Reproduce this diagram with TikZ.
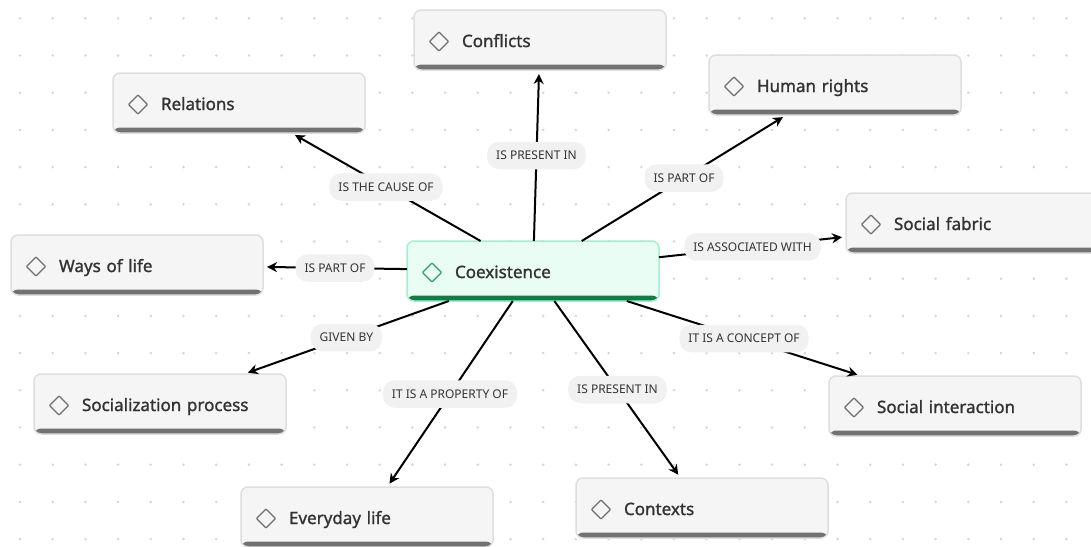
\documentclass[tikz,border=0pt]{standalone}
\usepackage{fontspec}
\setmainfont{Noto Sans}
\newfontfamily\conceptfont{Noto Sans}[FakeBold=1.3]
\usetikzlibrary{arrows.meta}

\definecolor{boxfill}{HTML}{F5F5F5}
\definecolor{boxline}{HTML}{DEDEDE}
\definecolor{barcol}{HTML}{727272}
\definecolor{icongray}{HTML}{6E6E6E}
\definecolor{ink}{HTML}{333333}
\definecolor{mintfill}{HTML}{E9FDF4}
\definecolor{mintline}{HTML}{A2F0D0}
\definecolor{greenbar}{HTML}{0F7B45}
\definecolor{greenicon}{HTML}{2E9C6C}
\definecolor{pillcol}{HTML}{F1F1F1}
\definecolor{dotcol}{HTML}{D6D6D6}

\tikzset{
  bar color/.store in=\barcolor, bar color=barcol,
  icon color/.store in=\iconcolor, icon color=icongray,
  concept/.style={draw=boxline, fill=boxfill, line width=1.5pt, rounded corners=7pt,
    minimum width=252pt, minimum height=60pt, text width=222pt, align=left,
    inner xsep=0pt, outer sep=0pt, text height=14pt, text depth=0pt,
    font=\conceptfont\fontsize{17}{20}\selectfont, text=ink,
    execute at begin node={\hspace*{33pt}},
    path picture={
      \fill[\barcolor] ([yshift=5.5pt]path picture bounding box.south west)
        rectangle (path picture bounding box.south east);
      \draw[\iconcolor, line width=1.2pt, rounded corners=0.6pt]
        ([xshift=15.5pt, yshift=-1.5pt]path picture bounding box.west)
        -- ++(9.5pt,9.5pt) -- ++(9.5pt,-9.5pt) -- ++(-9.5pt,-9.5pt) -- cycle;
    }},
  mainconcept/.style={concept, fill=mintfill, draw=mintline,
    bar color=greenbar, icon color=greenicon},
  linklabel/.style={fill=pillcol, rounded corners=12pt, inner xsep=9pt, inner ysep=9.5pt,
    text height=8.5pt, text depth=0pt, font=\fontsize{12}{14}\selectfont, text=ink},
  link/.style={draw=black, line width=2pt, -{Stealth[length=10pt,width=10pt]}, shorten >=4pt}
}

\begin{document}
\begin{tikzpicture}[x=1pt, y=-1pt]
  % canvas and dot grid
  \fill[white] (0,0) rectangle (1091,546);
  \useasboundingbox (0,0) rectangle (1091,546);
  \foreach \i in {0,...,33}
    \foreach \j in {0,...,14}
      \fill[dotcol] ({20+32.7*\i},{18.3+37.2*\j}) circle (1.4pt);

  % concepts
  \node[mainconcept] (coex) at (533,271) {Coexistence};
  \node[concept] (conf) at (540,40) {Conflicts};
  \node[concept] (rel) at (239,103) {Relations};
  \node[concept] (hum) at (835,85) {Human rights};
  \node[concept] (fab) at (972,223) {Social fabric};
  \node[concept] (ways) at (137,265) {Ways of life};
  \node[concept] (socp) at (160,404) {Socialization process};
  \node[concept] (every) at (367,517) {Everyday life};
  \node[concept] (ctx) at (702,508) {Contexts};
  \node[concept] (inter) at (955,406) {Social interaction};

  % links
  \draw[link] (coex) -- node[linklabel] {IS THE CAUSE OF} (rel);
  \draw[link] (coex) -- node[linklabel] {IS PRESENT IN} (conf);
  \draw[link] (coex) -- node[linklabel] {IS PART OF} (hum);
  \draw[link] (coex) -- node[linklabel] {IS ASSOCIATED WITH} (fab);
  \draw[link] (coex) -- node[linklabel] {IS PART OF} (ways);
  \draw[link] (coex) -- node[linklabel] {GIVEN BY} (socp);
  \draw[link] (coex) -- node[linklabel] {IT IS A PROPERTY OF} (every);
  \draw[link] (coex) -- node[linklabel] {IS PRESENT IN} (ctx);
  \draw[link] (coex) -- node[linklabel] {IT IS A CONCEPT OF} (inter);
\end{tikzpicture}
\end{document}
